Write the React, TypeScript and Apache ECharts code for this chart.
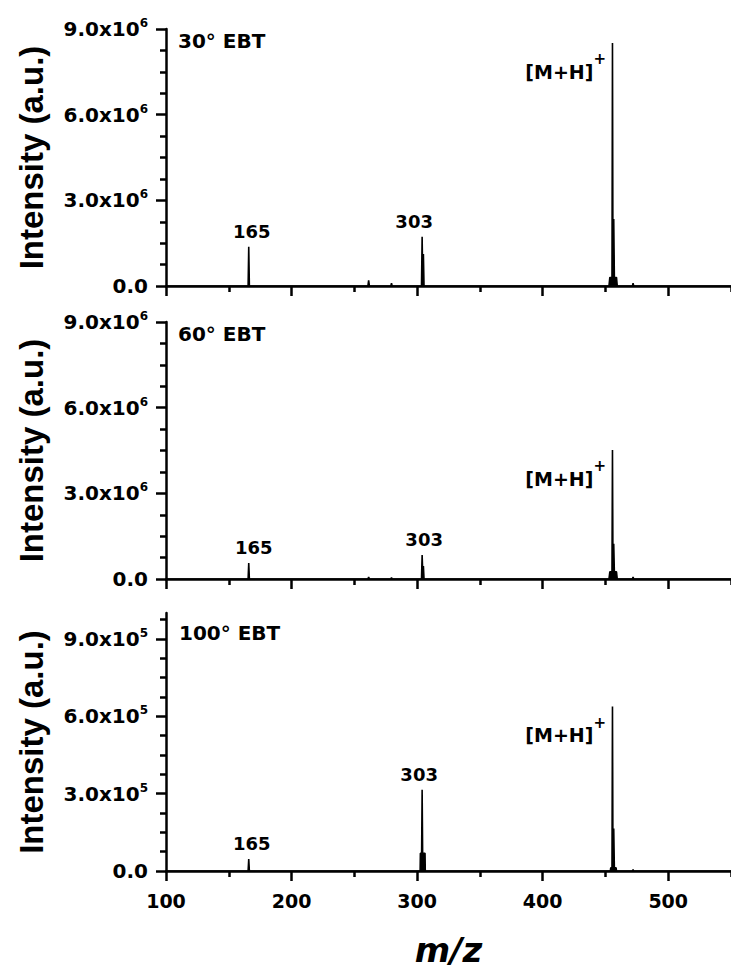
import React, { useEffect, useRef } from "react";
import * as echarts from "echarts";

const FONT = "'DejaVu Sans', sans-serif";
const TITLE_FONT = "'Liberation Sans', Arial, sans-serif";

// x axis (m/z)
const xMajorTicks = [100, 200, 300, 400, 500];
const xMinorTicks = [150, 250, 350, 450, 550];
const xLabels = ["100", "200", "300", "400", "500"];

// panel titles
const panelTitles = ["30° EBT", "60° EBT", "100° EBT"];

// y ticks per panel
const yMax = [9e6, 9e6, 1e6];
const yMajor30 = [0, 3e6, 6e6, 9e6];
const yMajor60 = [0, 3e6, 6e6, 9e6];
const yMajor100 = [0, 3e5, 6e5, 9e5];
const yLabels30 = ["0.0", "3.0x10^6", "6.0x10^6", "9.0x10^6"];
const yLabels60 = ["0.0", "3.0x10^6", "6.0x10^6", "9.0x10^6"];
const yLabels100 = ["0.0", "3.0x10^5", "6.0x10^5", "9.0x10^5"];
const yMinor30 = [0.75e6, 1.5e6, 2.25e6, 3.75e6, 4.5e6, 5.25e6, 6.75e6, 7.5e6, 8.25e6];
const yMinor60 = [0.75e6, 1.5e6, 2.25e6, 3.75e6, 4.5e6, 5.25e6, 6.75e6, 7.5e6, 8.25e6];
const yMinor100 = [0.75e5, 1.5e5, 2.25e5, 3.75e5, 4.5e5, 5.25e5, 6.75e5, 7.5e5, 8.25e5, 9.75e5];

// spectra (m/z, intensity)
const mz30 = [100, 165.4, 165.9, 166.4, 260.8, 261.4, 262.0, 279.1, 279.6, 280.1, 303.5, 304.0, 304.5, 305.0, 305.5, 452.8, 453.5, 455.2, 455.6, 456.0, 456.6, 457.1, 458.8, 459.4, 471.5, 472.0, 472.5, 550];
const int30 = [0, 0, 1.37e6, 0, 0, 0.2e6, 0, 0, 0.1e6, 0, 0, 1.72e6, 0.2e6, 1.12e6, 0, 0, 0.3e6, 0.3e6, 8.51e6, 0.3e6, 2.35e6, 0.3e6, 0.3e6, 0, 0, 0.1e6, 0, 0];

const mz60 = [100, 165.4, 165.9, 166.4, 260.8, 261.4, 262.0, 279.1, 279.6, 280.1, 303.5, 304.0, 304.5, 305.0, 305.5, 452.8, 453.5, 455.2, 455.6, 456.0, 456.6, 457.1, 458.8, 459.4, 471.5, 472.0, 472.5, 550];
const int60 = [0, 0, 0.56e6, 0, 0, 0.07e6, 0, 0, 0.05e6, 0, 0, 0.84e6, 0.2e6, 0.45e6, 0, 0, 0.25e6, 0.25e6, 4.52e6, 0.25e6, 1.23e6, 0.25e6, 0.25e6, 0, 0, 0.07e6, 0, 0];

const mz100 = [100, 165.4, 165.9, 166.4, 302.4, 302.6, 303.6, 304.0, 304.4, 306.3, 306.5, 453.9, 454.2, 455.2, 455.6, 456.0, 456.6, 457.1, 458.5, 458.8, 471.6, 472.0, 472.4, 550];
const int100 = [0, 0, 4.6e4, 0, 0, 6.9e4, 6.9e4, 3.15e5, 6.9e4, 6.9e4, 0, 0, 1.2e4, 1.2e4, 6.38e5, 1.2e4, 1.65e5, 1.2e4, 1.2e4, 0, 0, 0.6e4, 0, 0];

const peakPositions = [165.9, 304.0, 455.6];
const peakLabels = ["165", "303", "[M+H]+"];

const panels = [
  { mz: mz30, int: int30, major: yMajor30, labels: yLabels30, minor: yMinor30, offs165: [3, 0], offs303: [-8, 0] },
  { mz: mz60, int: int60, major: yMajor60, labels: yLabels60, minor: yMinor60, offs165: [5, 0], offs303: [2, 0] },
  { mz: mz100, int: int100, major: yMajor100, labels: yLabels100, minor: yMinor100, offs165: [3, 0], offs303: [-3, 0] },
];

const grids = [
  { left: 166, right: 0, top: 29, height: 257 },
  { left: 166, right: 0, top: 322, height: 257 },
  { left: 166, right: 0, top: 613, height: 258 },
];

export default function App() {
  const ref = useRef<HTMLDivElement>(null);
  useEffect(() => {
    if (!ref.current) return;
    const chart = echarts.init(ref.current, undefined, { renderer: "svg" });
    const axisLineStyle = { color: "#000", width: 2.5 };
    const xAxis: any[] = [];
    const yAxis: any[] = [];
    const series: any[] = [];
    panels.forEach((p, i) => {
      xAxis.push({
        type: "value",
        gridIndex: i,
        position: "bottom",
        min: 100,
        max: 550,
        axisLine: { show: true, onZero: false, lineStyle: axisLineStyle },
        axisTick: { show: true, customValues: xMajorTicks, length: 10, lineStyle: axisLineStyle },
        axisLabel: {
          show: i === 2,
          customValues: xMajorTicks,
          margin: 20,
          formatter: (v: number) => xLabels[xMajorTicks.indexOf(v)] ?? "",
          fontFamily: FONT,
          fontWeight: "bold",
          fontSize: 19,
          color: "#000",
        },
        splitLine: { show: false },
        name: i === 2 ? "m/z" : "",
        nameLocation: "middle",
        nameGap: 62,
        nameTextStyle: { fontFamily: FONT, fontWeight: "bold", fontStyle: "italic", fontSize: 34, color: "#000" },
      });
      xAxis.push({
        type: "value",
        gridIndex: i,
        position: "bottom",
        min: 100,
        max: 550,
        axisLine: { show: false, onZero: false },
        axisTick: { show: true, customValues: xMinorTicks, length: 6, lineStyle: axisLineStyle },
        axisLabel: { show: false, customValues: xMinorTicks },
        splitLine: { show: false },
      });
      const labs = p.labels;
      const major = p.major;
      yAxis.push({
        type: "value",
        gridIndex: i,
        position: "left",
        min: 0,
        max: yMax[i],
        axisLine: { show: true, onZero: false, lineStyle: axisLineStyle },
        axisTick: { show: true, customValues: major, length: 10, lineStyle: axisLineStyle },
        axisLabel: {
          show: true,
          customValues: major,
          margin: 18,
          formatter: (v: number) => {
            let idx = major.findIndex((m) => Math.abs(m - v) < 1);
            if (idx < 0) return "";
            const s = labs[idx];
            if (s.indexOf("^") < 0) return `{b|${s}}`;
            const [a, e] = s.split("^");
            return `{b|${a}}{s|${e}}`;
          },
          rich: {
            b: { fontFamily: FONT, fontWeight: "bold", fontSize: 20, lineHeight: 24, color: "#000" },
            s: { fontFamily: FONT, fontWeight: "bold", fontSize: 12, lineHeight: 12, verticalAlign: "top", color: "#000" },
          },
        },
        splitLine: { show: false },
        name: "Intensity (a.u.)",
        nameLocation: "middle",
        nameRotate: 90,
        nameGap: 118,
        nameTextStyle: { fontFamily: TITLE_FONT, fontWeight: "bold", fontSize: 33, color: "#000" },
      });
      yAxis.push({
        type: "value",
        gridIndex: i,
        position: "left",
        min: 0,
        max: yMax[i],
        axisLine: { show: false, onZero: false },
        axisTick: { show: true, customValues: p.minor, length: 6, lineStyle: axisLineStyle },
        axisLabel: { show: false, customValues: p.minor },
        splitLine: { show: false },
      });
      const data = p.mz.map((m, k) => [m, p.int[k]]);
      const peakVal = (pos: number) => p.int[p.mz.indexOf(pos)];
      series.push({
        type: "line",
        xAxisIndex: i * 2,
        yAxisIndex: i * 2,
        data,
        symbol: "none",
        showSymbol: false,
        lineStyle: { color: "#000", width: 1.6 },
        areaStyle: { color: "#000", opacity: 1 },
        z: 3,
        markPoint: {
          symbol: "circle",
          symbolSize: 1,
          itemStyle: { color: "rgba(0,0,0,0)" },
          data: [
            {
              name: peakLabels[0],
              coord: [peakPositions[0], peakVal(peakPositions[0])],
              label: {
                show: true,
                position: "top",
                distance: 6,
                offset: p.offs165,
                formatter: peakLabels[0],
                fontFamily: FONT,
                fontWeight: "bold",
                fontSize: 18,
                color: "#000",
              },
            },
            {
              name: peakLabels[1],
              coord: [peakPositions[1], peakVal(peakPositions[1])],
              label: {
                show: true,
                position: "top",
                distance: 6,
                offset: p.offs303,
                formatter: peakLabels[1],
                fontFamily: FONT,
                fontWeight: "bold",
                fontSize: 18,
                color: "#000",
              },
            },
            {
              name: peakLabels[2],
              coord: [peakPositions[2], peakVal(peakPositions[2])],
              label: {
                show: true,
                position: "left",
                distance: 6,
                offset: [0, 29],
                formatter: "{b|[M+H]}{s|+}",
                rich: {
                  b: { fontFamily: FONT, fontWeight: "bold", fontSize: 19, lineHeight: 40, color: "#000" },
                  s: { fontFamily: FONT, fontWeight: "bold", fontSize: 15, lineHeight: 15, verticalAlign: "top", color: "#000" },
                },
              },
            },
          ],
        },
      });
    });

    chart.setOption({
      animation: false,
      backgroundColor: "#fff",
      grid: grids,
      xAxis,
      yAxis,
      series,
      graphic: [
        { type: "text", left: 178, top: 31, style: { text: panelTitles[0], font: `bold 20px ${FONT}`, fill: "#000" } },
        { type: "text", left: 178, top: 324, style: { text: panelTitles[1], font: `bold 20px ${FONT}`, fill: "#000" } },
        { type: "text", left: 179, top: 623, style: { text: panelTitles[2], font: `bold 20px ${FONT}`, fill: "#000" } },
      ],
    });
    return () => chart.dispose();
  }, []);
  return (
    <div
      ref={ref}
      style={{ position: "fixed", left: 0, top: 0, width: 731, height: 972, background: "#fff" }}
    />
  );
}
